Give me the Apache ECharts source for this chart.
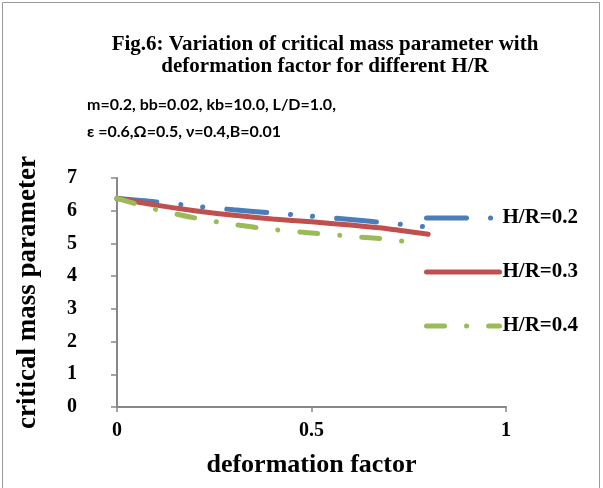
<!DOCTYPE html>
<html><head><meta charset="utf-8">
<script src="https://cdn.jsdelivr.net/npm/echarts@6/dist/echarts.min.js"></script>
<style>html,body{margin:0;padding:0;background:#fff}#c{width:603px;height:488px}</style>
</head><body><div id="c"></div>
<script>
const xValues = [0, 0.1, 0.2, 0.3, 0.4, 0.5, 0.6, 0.7, 0.8];
const xGreen = [0, 0.1, 0.2, 0.3, 0.4, 0.5, 0.6, 0.7, 0.75];
const hr02 = [6.37, 6.27, 6.14, 6.03, 5.93, 5.83, 5.73, 5.62, 5.5];
const hr03 = [6.38, 6.17, 6.0, 5.86, 5.75, 5.66, 5.56, 5.44, 5.28];
const hr04 = [6.38, 6.04, 5.78, 5.58, 5.43, 5.32, 5.22, 5.12, 5.04];
const seriesNames = ['H/R=0.2', 'H/R=0.3', 'H/R=0.4'];
const xTicks = [0, 0.5, 1];
const yTicks = [0, 1, 2, 3, 4, 5, 6, 7];

const pair = (xs, ys) => xs.map((x, i) => [x, ys[i]]);
const serif = '"Liberation Serif","Times New Roman",serif';
const chart = echarts.init(document.getElementById('c'));
chart.setOption({
  animation: false,
  backgroundColor: '#fff',
  title: [
    { text: 'Fig.6: Variation of critical mass parameter with\ndeformation factor for different H/R',
      left: 320, top: 29, textAlign: 'center',
      textStyle: { fontFamily: serif, fontWeight: 'bold', fontSize: 21, lineHeight: 22, color: '#000' } },
    { text: 'm=0.2, bb=0.02, kb=10.0, L/D=1.0,\nε =0.6,Ω=0.5, ν=0.4,B=0.01',
      left: 82, top: 86,
      textStyle: { fontFamily: 'Lato, "Open Sans", sans-serif', fontWeight: 'bold', fontSize: 16, lineHeight: 27, color: '#000' } }
  ],
  graphic: [{ type: 'rect', shape: { x: 2.5, y: 2.5, width: 597, height: 490 },
    style: { fill: 'none', stroke: '#999', lineWidth: 1 }, silent: true }],
  legend: {
    orient: 'vertical', left: 419, top: 202, itemWidth: 73, itemHeight: 14, itemGap: 32,
    data: seriesNames,
    itemStyle: { opacity: 0 },
    lineStyle: { width: 5, cap: 'round' },
    textStyle: { fontFamily: serif, fontWeight: 'bold', fontSize: 21, lineHeight: 22, color: '#000', padding: [0, 0, 0, -2] }
  },
  grid: { left: 117, right: 97, top: 178, bottom: 81 },
  xAxis: {
    type: 'value', min: 0, max: 1, interval: 0.5,
    name: 'deformation factor', nameLocation: 'middle', nameGap: 45,
    nameTextStyle: { fontFamily: serif, fontWeight: 'bold', fontSize: 26, color: '#000' },
    axisLine: { lineStyle: { color: '#888', width: 2 } },
    axisTick: { show: true, length: 5, lineStyle: { color: '#888', width: 1.5 } },
    splitLine: { show: false },
    axisLabel: { fontFamily: serif, fontWeight: 'bold', fontSize: 20, color: '#000', margin: 14,
      formatter: v => xTicks.includes(v) ? String(v) : '' }
  },
  yAxis: {
    type: 'value', min: 0, max: 7, interval: 1,
    name: 'critical mass parameter', nameLocation: 'middle', nameGap: 75, nameRotate: 90,
    nameTextStyle: { fontFamily: serif, fontWeight: 'bold', fontSize: 27, color: '#000' },
    axisLine: { show: true, lineStyle: { color: '#888', width: 2 } },
    axisTick: { show: true, length: 6, lineStyle: { color: '#888', width: 1.5 } },
    splitLine: { show: false },
    axisLabel: { fontFamily: serif, fontWeight: 'bold', fontSize: 20, color: '#000', margin: 40,
      formatter: v => yTicks.includes(v) ? String(v) : '' }
  },
  series: [
    { name: seriesNames[0], type: 'line', data: pair(xValues, hr02), showSymbol: false, symbol: 'none', smooth: 0.3,
      itemStyle: { color: '#4a7ebb' },
      lineStyle: { color: '#4a7ebb', width: 5, cap: 'round', type: [40, 24, 0.1, 22, 0.1, 24] } },
    { name: seriesNames[1], type: 'line', data: pair(xValues, hr03), showSymbol: false, symbol: 'none', smooth: 0.3,
      itemStyle: { color: '#c0504d' },
      lineStyle: { color: '#c0504d', width: 5, cap: 'round' } },
    { name: seriesNames[2], type: 'line', data: pair(xGreen, hr04), showSymbol: false, symbol: 'none', smooth: 0.3,
      itemStyle: { color: '#9bbb59' },
      lineStyle: { color: '#9bbb59', width: 5, cap: 'round', type: [18, 22, 0.1, 22] } }
  ]
});
</script></body></html>
